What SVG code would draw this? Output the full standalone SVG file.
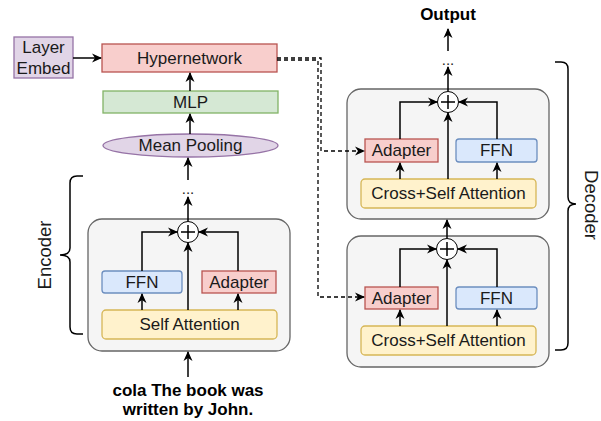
<svg xmlns="http://www.w3.org/2000/svg" width="601" height="421" viewBox="0 0 601 421">
<defs>
<marker id="ah" viewBox="0 0 10 10" refX="9" refY="5" markerWidth="10" markerHeight="10" markerUnits="userSpaceOnUse" orient="auto">
<path d="M0,0.5 L10,5 L0,9.5 L3,5 z" fill="#000"/>
</marker>
<style>
text{font-family:"Liberation Sans",Arial,sans-serif;font-size:17px;fill:#1a1a1a;text-anchor:middle;dominant-baseline:central}
.b{font-weight:bold;fill:#000}
.red{fill:#f8cecc;stroke:#b85450;stroke-width:1.3}
.grn{fill:#d5e8d4;stroke:#82b366;stroke-width:1.3}
.pur{fill:#e1d5e7;stroke:#9673a6;stroke-width:1.3}
.blu{fill:#dae8fc;stroke:#6c8ebf;stroke-width:1.3}
.yel{fill:#fff2cc;stroke:#d6b656;stroke-width:1.3}
.cont{fill:#f5f5f5;stroke:#666;stroke-width:1.3}
.ln{fill:none;stroke:#000;stroke-width:1.5}
.dash{fill:none;stroke:#000;stroke-width:1.3;stroke-dasharray:4 3}
.circ{fill:#fff;stroke:#000;stroke-width:1}
.lbl{font-size:18.5px}
.dots{font-size:15px}
</style>
</defs>

<!-- containers -->
<g id="encoder-block"><rect class="cont" x="88" y="219" width="202" height="132" rx="14"/></g>
<g id="decoder-block-top"><rect class="cont" x="347" y="89" width="202" height="130" rx="14"/></g>
<g id="decoder-block-bottom"><rect class="cont" x="347" y="236" width="202" height="131" rx="14"/></g>

<!-- left column -->
<g id="layer-embed"><rect class="pur" x="14" y="37" width="59" height="41"/><text x="43.5" y="47">Layer</text><text x="43.5" y="68">Embed</text></g>
<g id="hypernetwork"><rect class="red" x="102" y="44" width="175" height="28"/><text x="189.5" y="58">Hypernetwork</text></g>
<g id="mlp"><rect class="grn" x="103" y="91" width="175" height="22"/><text x="190.5" y="102">MLP</text></g>
<g id="mean-pooling"><ellipse class="pur" cx="190.5" cy="145.5" rx="87.5" ry="11.5"/><text x="190.5" y="145.5">Mean Pooling</text></g>

<!-- encoder -->
<g id="enc-plus"><circle class="circ" cx="188" cy="232" r="10.5"/><path class="ln" d="M181,232 H195 M188,225 V239" stroke-width="1"/></g>
<g id="enc-ffn"><rect class="blu" x="102" y="271" width="80" height="22" rx="3"/><text x="142" y="282">FFN</text></g>
<g id="enc-adapter"><rect class="red" x="202" y="271" width="74" height="22"/><text x="239" y="282">Adapter</text></g>
<g id="enc-self-attention"><rect class="yel" x="102" y="310" width="175" height="29" rx="4"/><text x="189.5" y="324.5">Self Attention</text></g>
<g id="enc-dots"><text class="dots" x="188" y="188">...</text></g>
<g id="input-text"><text class="b" x="188" y="390">cola The book was</text><text class="b" x="188" y="409">written by John.</text></g>
<g id="encoder-label">
<path class="ln" d="M83,176 H77 Q70,176 70,183 V248 Q70,255 60,255 Q70,255 70,262 V327 Q70,334 77,334 H83" stroke-width="1.3"/>
<text class="lbl" x="0" y="0" transform="translate(44,255) rotate(-90)">Encoder</text>
</g>

<!-- decoder top -->
<g id="dec1-plus"><circle class="circ" cx="448" cy="102" r="10.5"/><path class="ln" d="M441,102 H455 M448,95 V109" stroke-width="1"/></g>
<g id="dec1-adapter"><rect class="red" x="365" y="139" width="73" height="23"/><text x="401.5" y="150.5">Adapter</text></g>
<g id="dec1-ffn"><rect class="blu" x="456" y="139" width="81" height="23" rx="3"/><text x="496.5" y="150.5">FFN</text></g>
<g id="dec1-attn"><rect class="yel" x="361" y="179" width="175" height="29" rx="4"/><text x="448.5" y="193.5">Cross+Self Attention</text></g>
<g id="dec-dots"><text class="dots" x="448" y="59">...</text></g>
<g id="output"><text class="b" x="448" y="14">Output</text></g>

<!-- decoder bottom -->
<g id="dec2-plus"><circle class="circ" cx="447" cy="249" r="10.5"/><path class="ln" d="M440,249 H454 M447,242 V256" stroke-width="1"/></g>
<g id="dec2-adapter"><rect class="red" x="365" y="287" width="73" height="22"/><text x="401.5" y="298">Adapter</text></g>
<g id="dec2-ffn"><rect class="blu" x="456" y="287" width="81" height="22" rx="3"/><text x="496.5" y="298">FFN</text></g>
<g id="dec2-attn"><rect class="yel" x="361" y="326" width="175" height="29" rx="4"/><text x="448.5" y="340.5">Cross+Self Attention</text></g>
<g id="decoder-label">
<path class="ln" d="M555,62 H561 Q568,62 568,69 V197 Q568,204 576,204 Q568,204 568,211 V343 Q568,350 561,350 H555" stroke-width="1.3"/>
<text class="lbl" x="0" y="0" transform="translate(591,205) rotate(90)">Decoder</text>
</g>

<!-- connectors -->
<g id="connectors">
<path class="ln" d="M73,58 H101" marker-end="url(#ah)"/>
<path class="ln" d="M190,91 V73" marker-end="url(#ah)"/>
<path class="ln" d="M190,134 V114" marker-end="url(#ah)"/>
<path class="ln" d="M188,180 V158" marker-end="url(#ah)"/>
<path class="ln" d="M188,221 V197" marker-end="url(#ah)"/>
<path class="ln" d="M188,377 V352" marker-end="url(#ah)"/>
<path class="ln" d="M188,310 V243" marker-end="url(#ah)"/>
<path class="ln" d="M142,310 V294" marker-end="url(#ah)"/>
<path class="ln" d="M238,310 V294" marker-end="url(#ah)"/>
<path class="ln" d="M142,271 V232 H177" marker-end="url(#ah)"/>
<path class="ln" d="M238,271 V232 H199" marker-end="url(#ah)"/>

<path class="ln" d="M448,179 V113" marker-end="url(#ah)"/>
<path class="ln" d="M400,179 V163" marker-end="url(#ah)"/>
<path class="ln" d="M497,179 V163" marker-end="url(#ah)"/>
<path class="ln" d="M400,139 V102 H437" marker-end="url(#ah)"/>
<path class="ln" d="M497,139 V102 H459" marker-end="url(#ah)"/>
<path class="ln" d="M448,91 V67" marker-end="url(#ah)"/>
<path class="ln" d="M448,51 V29" marker-end="url(#ah)"/>

<path class="ln" d="M447,326 V260" marker-end="url(#ah)"/>
<path class="ln" d="M400,326 V310" marker-end="url(#ah)"/>
<path class="ln" d="M497,326 V310" marker-end="url(#ah)"/>
<path class="ln" d="M400,287 V249 H436" marker-end="url(#ah)"/>
<path class="ln" d="M497,287 V249 H458" marker-end="url(#ah)"/>
<path class="ln" d="M447,238 V220" marker-end="url(#ah)"/>

<path class="dash" d="M277,58 H321 V151 H364" marker-end="url(#ah)"/>
<path class="dash" d="M277,60 H318 V297 H364" marker-end="url(#ah)"/>
</g>
</svg>
